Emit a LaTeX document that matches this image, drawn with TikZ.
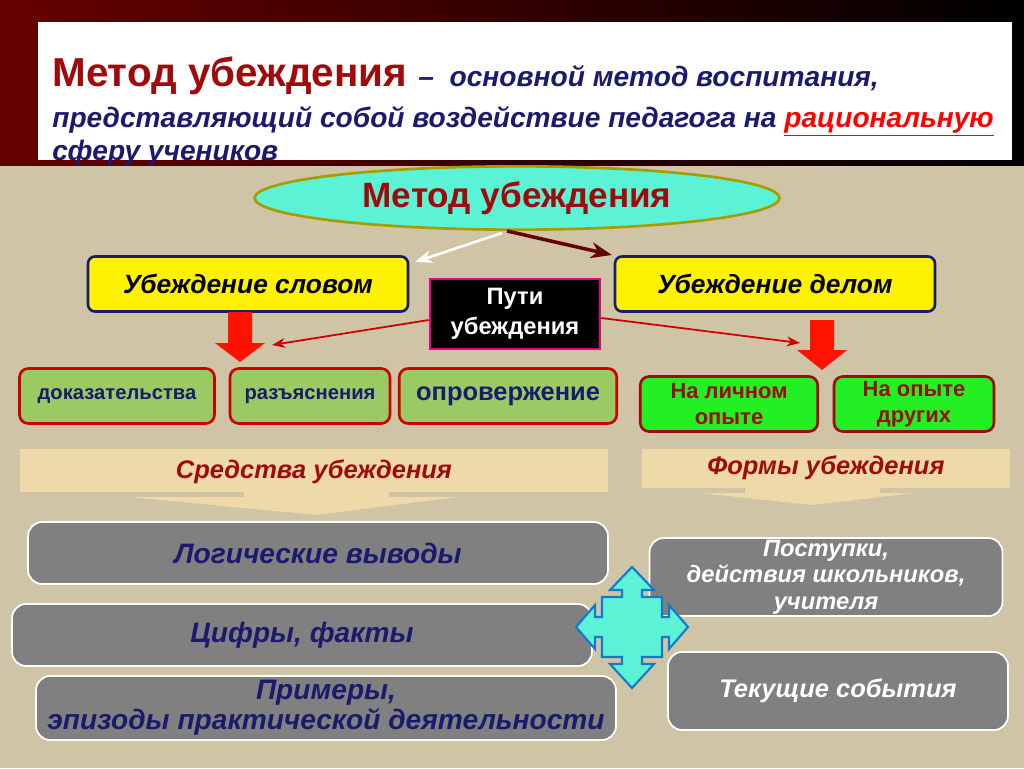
\documentclass[tikz,border=0pt]{standalone}
\usepackage{fontspec}
\setmainfont{Liberation Sans}
\usetikzlibrary{shapes.geometric, arrows.meta, positioning}
\definecolor{beige}{HTML}{CFC4A6}
\definecolor{navy}{HTML}{1A1A6E}
\definecolor{darkred}{HTML}{A00A0A}
\definecolor{aqua}{HTML}{5CF2D6}
\definecolor{leaf}{HTML}{9BC964}
\definecolor{lime}{HTML}{22F022}
\definecolor{banner}{HTML}{EED9A8}
\begin{document}
\begin{tikzpicture}[
      x=0.02cm, y=-0.02cm,
      >=Stealth,
      wordbox/.style = {draw=navy, line width=1.5pt, fill=yellow, rounded corners=4pt,
        font=\fontsize{15}{17}\selectfont\bfseries\itshape, align=center},
      meanbox/.style = {draw=red!80!black, line width=1.5pt, fill=leaf, rounded corners=5pt,
        text=navy, font=\bfseries, align=center},
      formbox/.style = {draw=darkred, line width=1.5pt, fill=lime, rounded corners=5pt,
        text=darkred, font=\fontsize{12.5}{15}\selectfont\bfseries, align=center},
      graybox/.style = {draw=white, line width=1pt, fill=gray, rounded corners=8pt,
        font=\bfseries\itshape, align=center},
      bigarrow/.style = {fill=red!85!orange, draw=none},
      banner/.style = {fill=banner, draw=none}
    ]

    % background
    \fill[black!85!red] (0,0) rectangle (1024,768);
    \shade[left color=black!60!red, right color=black] (0,0) rectangle (1024,166);
    \fill[white] (38,22) rectangle (1012,160);
    \node[anchor=base west, inner sep=0pt] (title) at (52,86)
      {\fontsize{23}{26}\selectfont\bfseries\color{darkred}Метод убеждения
       \fontsize{16}{19}\selectfont\itshape\color{navy} – \ основной метод воспитания,};
    \node[anchor=base west, inner sep=0pt] (title2) at (52,127)
      {\fontsize{16}{19}\selectfont\bfseries\itshape\color{navy}представляющий собой воздействие педагога на
       \color{red}\underline{рациональную}};
    \node[anchor=base west, inner sep=0pt] (title3) at (52,160)
      {\fontsize{16}{19}\selectfont\bfseries\itshape\color{navy}сферу учеников};
    \fill[beige] (0,166) rectangle (1024,768);

    \node[ellipse, draw=olive!80!yellow, line width=1.5pt, fill=aqua,
      minimum width=10.5cm, minimum height=1.2cm, text=darkred,
      font=\fontsize{20}{22}\selectfont\bfseries] (method) at (517,198) {Метод убеждения};

    \node[wordbox, minimum width=6.4cm, minimum height=1.1cm] (word) at (248,284) {Убеждение словом};
    \node[wordbox, minimum width=6.4cm, minimum height=1.1cm] (deed) at (775,284) {Убеждение делом};
    \node[draw=magenta, line width=1.5pt, fill=black, text=white, align=center,
      minimum width=3.4cm, minimum height=1.4cm, inner sep=2pt,
      font=\fontsize{13.5}{17}\selectfont\bfseries] (ways) at (515,314) {Пути\\убеждения};

    \draw[->, white, line width=1.5pt] (method.south) ++(-15,2) coordinate (m1) -- (415,262);
    \draw[->, black!60!red, line width=2pt] (method.south) ++(-10,0) -- (612,255);
    \draw[->, red!80!black, line width=1pt] (ways.west) ++(0,6) -- (272,345);
    \draw[->, red!80!black, line width=1pt] (ways.east) ++(0,4) -- (800,343);

    % block arrows
    \fill[bigarrow] (228,312) -- (252,312) -- (252,343) -- (265,343) -- (240,362)
      -- (215,343) -- (228,343) -- cycle;
    \fill[bigarrow] (810,320) -- (834,320) -- (834,350) -- (847,350) -- (822,370)
      -- (797,350) -- (810,350) -- cycle;

    \node[meanbox, minimum width=3.9cm, minimum height=1.1cm, inner sep=1pt, font=\fontsize{11.5}{13}\selectfont\bfseries]
      (proof) at (117,396) {доказательства};
    \node[meanbox, minimum width=3.2cm, minimum height=1.1cm, inner sep=1pt, font=\fontsize{11.5}{13}\selectfont\bfseries]
      (explain) at (310,396) {разъяснения};
    \node[meanbox, minimum width=4.35cm, minimum height=1.1cm, inner sep=1pt, font=\fontsize{14.5}{16}\selectfont\bfseries]
      (refute) at (508,396) {опровержение};
    \node[formbox, minimum width=3.55cm, minimum height=1.1cm, inner sep=1pt] (own) at (729,404) {На личном\\опыте};
    \node[formbox, minimum width=3.2cm, minimum height=1.1cm, inner sep=1pt] (others) at (914,404) {На опыте\\других};

    % banners
    \fill[banner] (20,449) rectangle (608,492);
    \fill[banner] (244,492) -- (389,492) -- (389,497) -- (458,497) -- (316,515)
      -- (130,497) -- (244,497) -- cycle;
    \fill[banner] (642,449) rectangle (1010,488);
    \fill[banner] (745,488) -- (880,488) -- (880,493) -- (915,493) -- (812,505)
      -- (700,493) -- (745,493) -- cycle;
    \node[text=darkred, font=\fontsize{14.5}{16}\selectfont\bfseries\itshape] (means) at (314,472) {Средства убеждения};
    \node[text=darkred, font=\fontsize{14.5}{16}\selectfont\bfseries\itshape] (forms) at (826,468) {Формы убеждения};

    \node[graybox, minimum width=11.6cm, minimum height=1.24cm, text=navy,
      font=\fontsize{16}{18}\selectfont\bfseries\itshape] (logic) at (318,553) {Логические выводы};
    \node[graybox, minimum width=11.6cm, minimum height=1.24cm, text=navy,
      font=\fontsize{16}{18}\selectfont\bfseries\itshape] (facts) at (302,635) {Цифры, факты};
    \node[graybox, minimum width=11.6cm, minimum height=1.28cm, inner sep=1pt, text=navy,
      font=\fontsize{16}{17}\selectfont\bfseries\itshape] (examples) at (326,708)
      {Примеры,\\эпизоды практической деятельности};
    \node[graybox, minimum width=7.06cm, minimum height=1.56cm, inner sep=1pt, text=white,
      font=\fontsize{13.5}{15}\selectfont\bfseries\itshape] (acts) at (826,577)
      {Поступки,\\действия школьников,\\учителя};
    \node[graybox, minimum width=6.8cm, minimum height=1.56cm, text=white,
      font=\fontsize{14.5}{16}\selectfont\bfseries\itshape] (events) at (838,691) {Текущие события};

    % four-way arrow
    \begin{scope}[shift={(632,627)}]
      \filldraw[fill=aqua, draw=cyan!60!blue, line width=1.2pt]
        (-30,-30) -- (-10,-30) -- (-10,-37) -- (-22,-37) -- (0,-60) -- (22,-37) -- (10,-37) -- (10,-30)
        -- (30,-30) -- (30,-10) -- (37,-10) -- (37,-22) -- (56,0) -- (37,22) -- (37,10) -- (30,10)
        -- (30,30) -- (10,30) -- (10,37) -- (22,37) -- (0,61) -- (-22,37) -- (-10,37) -- (-10,30)
        -- (-30,30) -- (-30,10) -- (-37,10) -- (-37,22) -- (-56,0) -- (-37,-22) -- (-37,-10) -- (-30,-10)
        -- cycle;
    \end{scope}

  \end{tikzpicture}
\end{document}
